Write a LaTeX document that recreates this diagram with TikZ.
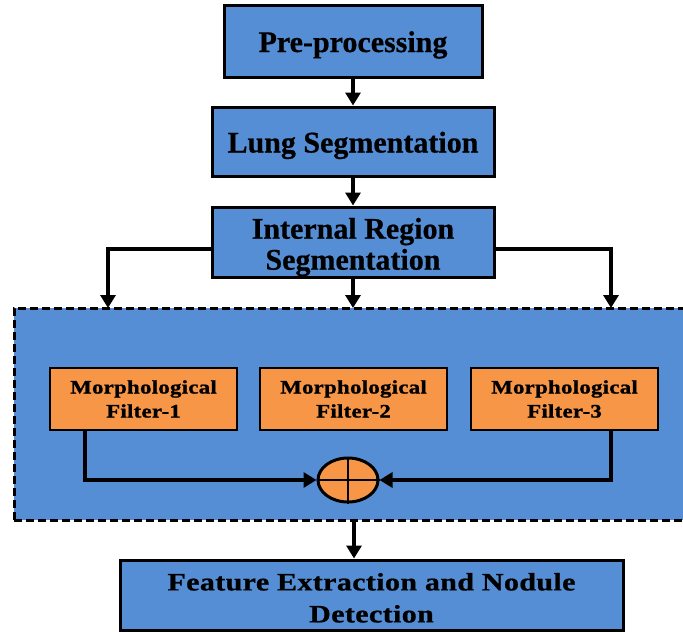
\documentclass[tikz,border=0pt]{standalone}
\usepackage{fontspec}
\setmainfont{Liberation Serif}[BoldFeatures={FakeBold=0.6}]
\newfontfamily\filterfont{Liberation Serif}[FakeStretch=1.2,LetterSpace=1.5,BoldFeatures={FakeBold=1.2}]
\newfontfamily\featfont{Liberation Serif}[FakeStretch=1.2,LetterSpace=1.5,BoldFeatures={FakeBold=0.8}]
\usetikzlibrary{arrows.meta,shapes.geometric}
\definecolor{boxblue}{RGB}{85,142,213}
\definecolor{filtorange}{RGB}{247,150,70}
\begin{document}
\begin{tikzpicture}[x=1pt,y=-1pt,
  stagebox/.style={draw=black,line width=3pt,fill=boxblue,inner sep=0pt,align=center,
    font=\bfseries\fontsize{30}{31}\selectfont},
  oneline/.style={text height=28pt,text depth=6pt},
  filterbox/.style={draw=black,line width=1.5pt,fill=filtorange,inner sep=0pt,align=center,
    minimum width=187pt,minimum height=62pt,
    font=\filterfont\bfseries\fontsize{19}{24}\selectfont},
  conn/.style={line width=3.5pt,draw=black},
  arr/.style={conn,-{Triangle[length=13pt,width=15pt]}}]
\clip (0,0) rectangle (683,632);
\fill[white] (0,0) rectangle (683,632);
% panel
\node[draw=black,fill=boxblue,line width=3pt,dash pattern=on 8pt off 4pt,
  minimum width=680pt,minimum height=212pt,inner sep=0pt] (panel) at (354,414) {};
% stages
\node[stagebox,oneline,minimum width=258pt,minimum height=72pt] (pre) at (353,41) {Pre-processing};
\node[stagebox,oneline,minimum width=282pt,minimum height=69pt] (lung) at (353,141.5) {Lung Segmentation};
\node[stagebox,minimum width=282pt,minimum height=70pt] (irs) at (353,242) {\rule{0pt}{31pt}Internal Region\\Segmentation};
\node[stagebox,minimum width=503pt,minimum height=70pt,
  font=\featfont\bfseries\fontsize{25}{32}\selectfont] (feat) at (371.5,595) {\rule{0pt}{23pt}Feature Extraction and Nodule\\Detection};
% filters
\node[filterbox] (f1) at (143.5,399) {Morphological\\Filter-1};
\node[filterbox] (f2) at (353.5,399) {Morphological\\Filter-2};
\node[filterbox] (f3) at (564.5,399) {Morphological\\Filter-3};
% sum
\node[ellipse,draw=black,line width=3pt,fill=filtorange,minimum width=60pt,minimum height=44pt,inner sep=0pt] (sum) at (348,480) {};
\draw[line width=2.5pt] (sum.north) -- (sum.south) (sum.west) -- (sum.east);
% coordinates
\coordinate (la) at (108,308);
\coordinate (ra) at (611,308);
\coordinate (pb) at (354,520);
% connectors
\draw[arr] (pre.south) -- (lung.north);
\draw[arr] (lung.south) -- (irs.north);
\draw[arr] ([yshift=-7pt]irs.west) -| (la);
\draw[arr] ([yshift=-7pt]irs.east) -| (ra);
\draw[arr] (irs.south) -- (irs.south |- la);
\draw[arr] ([xshift=-58.5pt]f1.south) |- (sum.west);
\draw[arr] ([xshift=46.5pt]f3.south) |- (sum.east);
\draw[arr] (pb) -- (pb |- feat.north);
\end{tikzpicture}
\end{document}
